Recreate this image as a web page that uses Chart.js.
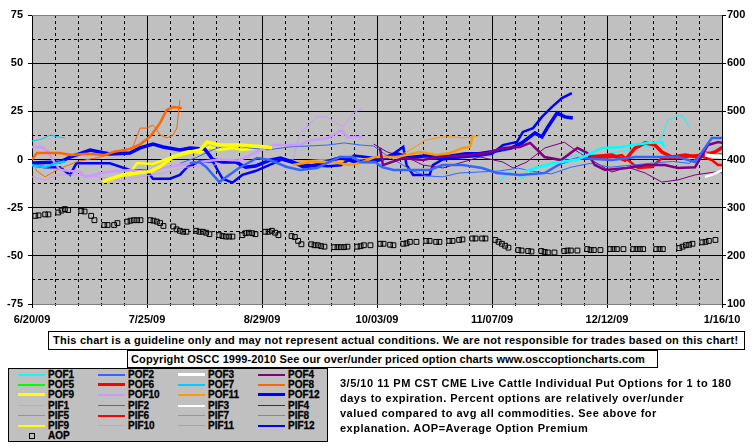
<!DOCTYPE html>
<html>
<head>
<meta charset="utf-8">
<script src="https://cdn.jsdelivr.net/npm/chart.js@4.4.0/dist/chart.umd.min.js"></script>
<style>
  html, body { margin: 0; padding: 0; background: #fff; }
  #wrap {
    position: relative; width: 755px; height: 446px; overflow: hidden;
    font-family: "Liberation Sans", Arial, sans-serif; font-weight: bold; color: #000;
  }
  #chart { position: absolute; left: 0; top: 0; }
  .box {
    position: absolute; border: 1px solid #000; background: #fff; box-sizing: border-box;
    font-size: 11px; line-height: 17px; white-space: nowrap; padding-left: 4px;
  }
  #disclaimer { left: 48px; top: 331px; width: 697px; height: 19px; letter-spacing: 0.25px; }
  #copyright { left: 127px; top: 350px; width: 531px; height: 18px; padding-left: 3px; letter-spacing: 0.12px; }
  #legend {
    position: absolute; left: 8px; top: 368px; width: 320px; height: 74px;
    background: #c0c0c0; border: 1px solid #000; box-sizing: border-box; z-index: 2;
  }
  .item { position: absolute; height: 10px; font-size: 10px; line-height: 10px; white-space: nowrap; color: #000; }
  .swatch { position: absolute; left: 0; width: 27px; }
  .marker { position: absolute; left: 11px; top: 2px; width: 4px; height: 4px; border: 1px solid #000; }
  .lbl { position: absolute; left: 30px; top: 0; color: #000; -webkit-text-stroke: 0.3px #000; }
  #note { position: absolute; left: 340px; top: 376px; font-size: 11px; line-height: 15px; white-space: nowrap; letter-spacing: 0.5px; }
</style>
</head>
<body>
<div id="wrap">
  <canvas id="chart" width="755" height="446"></canvas>
  <div class="box" id="disclaimer">This chart is a guideline only and may not represent actual conditions. We are not responsible for trades based on this chart!</div>
  <div class="box" id="copyright">Copyright OSCC 1999-2010 See our over/under priced option charts www.osccoptioncharts.com</div>
  <div id="legend"></div>
  <div id="note">3/5/10 11 PM CST CME Live Cattle Individual Put Options for 1 to 180<br>days to expiration. Percent options are relatively over/under<br>valued compared to avg all commodities. See above for<br>explanation. AOP=Average Option Premium</div>
</div>
<script>
/* ---- Data: x = days after 6/20/09, y = % over/under ---- */

const X_LABELS = ['6/20/09', '7/25/09', '8/29/09', '10/03/09', '11/07/09', '12/12/09', '1/16/10'];

const POF1 = [[150,-6],[154,-4],[158,-2],[162,-1],[166,0],[169,2.3],[173.5,6],[179.5,6.5],[182.6,7.5],[187.5,8.6],[191.7,9.1],[192.5,6.5]];
const POF2 = [[48,-2],[51,-1.3],[53,-3.9],[57,-11.7],[60,-8],[63,-4.4],[68.5,0.8],[72.4,-0.3],[77.6,-3.9],[81.6,-5.4],[86.7,-4.4],[93.7,1.3],[97.7,1.3],[99.8,-1.3],[104.4,-1.3],[106.5,-3.9],[110,-5.4],[116,-5.4],[121,-5.4],[125,-2.9],[131,-2.9],[137,-4.4],[141.5,-7],[148.5,-8],[156,-7],[161.3,-1.8],[166.2,0.8],[176.5,-0.3],[183.5,1.3],[191.7,1.3],[196.6,1.3],[201.8,-1.3],[206.9,11.2],[210.3,11.2]];
const POF3 = [[204.8,2.3],[210.3,1.3]];
const POF4 = [[105.9,6],[106.8,-2.9],[112.9,0.8],[119,-0.3],[123.3,1.3],[133.3,2.3],[138.5,3.4],[143.3,6],[148.5,6.5],[151.6,8.6],[156,1.3],[161,-0.3],[166,6],[169,3.4],[171.3,-2.9],[174.4,-5.4],[181,-4.4],[187,-2.9],[192.6,-2.9],[196.6,-4.4],[201.8,-4],[205.7,7.5],[208.8,9.1],[210.3,8.6]];
const POF5 = [];
const POF6 = [[169.2,1.3],[176.5,2.3],[180.5,-0.3],[183.5,5.9],[186.6,8.6],[189.6,7.5],[191.7,3.9],[194.8,1.3],[198.7,2.3],[202.7,1.3],[207.9,3.9],[210.3,6.5]];
const POF7 = [[0,-3],[4,-4],[7,-2],[10,-1]];
const POF8 = [[0,0],[1.5,3.4],[8.5,3.4],[12,2.3],[17,3],[22,2.3],[25,4],[30,5.5],[33,8],[36,12],[39,19],[41,25.7],[43,27.2],[45.6,26.7]];
const POF9 = [[21.6,-11.5],[24,-10],[27.7,-8],[30,-7.5],[32.9,-6.8],[36,-6.3],[39,-3.7],[43,1.5],[47,3.4],[51.1,4.9],[53.3,9.1],[57.2,7.5],[63.3,7.5],[71.5,6.5],[73,6]];
const POF10 = [[0,6.5],[3,6.5],[5,4],[6.8,-1.5],[8.5,-5.4],[14.6,-6.5],[16.1,-9],[22.8,-6.5],[29.8,-5.4],[35,-6.5],[39.9,-4.4],[45,-2.9],[50,-1.5],[57,0],[63,-0.5],[68.5,4],[73.3,7.5],[81.6,7.5],[84.6,10],[90,11],[94,15.3],[96,11.7],[100.7,11.7]];
const POF11 = [[79.4,-2.9],[84.6,-1.3],[91.6,-1.3],[96.8,-2.9],[99.8,-1.8],[104.4,1.3],[108,1.3],[111.1,1.3],[118.1,3.9],[123.3,2.3],[127.2,3.4],[131.2,6],[133.3,6.5],[134.2,12.7]];
const POF12 = [[0,-1.8],[8.5,-1.3],[11.6,1.3],[17.7,4.9],[23.7,2.9],[29.8,3.4],[32.9,6],[36.8,8],[39.9,6.5],[45,4.9],[48.1,6],[52.6,5.4],[55,0],[58,-1.3],[62,-1.3],[65,-4],[68,-3.4],[72.4,-0.3],[75.6,0.8],[79.5,-1.3],[82.6,-3.9],[86,-3],[90,-1],[94,1],[98,-1],[104,-1],[108,1],[111,3],[115,1],[120,2],[124,1],[128,2],[132,3],[136,3],[140,4],[143,5],[146,6],[149.1,8.6],[153.1,13.8],[155.2,11.7],[157,16.9],[159.8,24.1],[162.2,22.1],[164.6,21.5]];

const PIF1 = [[141.5,-12.2],[145.5,-6.5],[149.4,-9.6],[153.7,-4.4],[156,-3.9],[160,-1.5],[164,1.5],[168,4],[172,2],[177,3.5],[182,5],[186,7],[189,6],[191.7,11.7],[193.5,20.6],[197.8,23.1],[200.2,16.3]];
const PIF2 = [[45,-2],[50,1],[55,5],[60,8],[66,6],[72,5],[78,6.5],[84,7],[90,7.5],[95,8.6],[100,7.5],[104,7],[108,2],[112,-2],[116,-6],[120,-8.5],[125,-9],[130,-7],[136,-6.5],[142,-6],[148,-4.5],[152,-6],[158,-7.5],[164,-4],[170,-2],[176,-4],[182,-3],[188,-2],[195,-1],[200,-2],[205,4],[210,3]];
const PIF3 = [[204.8,-9],[206.9,-8],[210.3,-5.4]];
const PIF4 = [[104,8],[108,4],[115.9,-0.3],[119,-2.9],[125.1,-4.4],[131.2,-1.3],[136.3,1.3],[143.3,-1.3],[146.4,-4.4],[150.6,-1.3],[156.1,6],[162,9],[166.2,3.9],[171.3,-1.3],[176.5,-6.5],[181.4,-4],[186.6,-7],[191.7,-11.7],[196.6,-10.6],[201.8,-8],[207.9,-6.5],[210.3,-7]];
const PIF5 = [];
const PIF6 = [[169.2,0.8],[176.5,1.3],[179.5,2.3],[184.4,-4.4],[188.7,-3.9],[191.7,0.8],[196.6,0.8],[202.7,2.3],[206.9,-0.3],[208.8,-2.9],[210.3,-2.9]];
const PIF7 = [[0,9.6],[3,10.6],[5.5,12.7],[8,11.7],[10,11.2]];
const PIF8 = [[0,-1.3],[1.5,-6],[4,-9],[8,-5],[14,-1],[20,1],[27,4],[30.7,6.5],[32.9,16.3],[35,16.3],[36.8,17.9],[38,15.3],[39,12.7],[41.1,11.2],[42.9,12.7],[44.1,16.3],[45,30.9]];
const PIF9 = [[27.7,-8],[29.8,-7],[32,-1.8],[36.8,-2.3],[39.9,-0.3],[42,0.8],[45,2.3],[47.2,4.9],[51,3.4],[54,6.5],[57,4.9],[61,6],[64,4.9],[68.5,6]];
const PIF10 = [[0,-9],[4,-10.6],[8,-8],[14,-8],[20,-9],[27,-11],[33,-9],[40,-7],[47,-4],[55,-3],[62,-1],[70,-2],[75,0],[79.4,-0.3],[81.6,13.8],[86.7,22.1],[89.8,22.1],[94.6,16.9],[97.7,24.1],[100.7,26.7]];
const PIF11 = [[80,-1],[88,0],[95,-0.5],[100,0],[104.4,1.3],[110,2],[113.5,3.4],[116.6,6.5],[119.6,10],[124.8,11.7],[128.7,11.7],[131.2,11.2],[134.8,11.7],[136.3,12.7]];
const PIF12 = [[0,-3],[4,-4],[8.5,-4],[11.6,-8],[13.5,-2],[23.7,-2],[29.8,-5.4],[35,-6],[36.8,-10],[42,-10],[45,-8],[47.2,-4],[51,-1],[55,-1],[58,-10],[61,-12],[64,-8],[68,-6],[72,-3],[76,0],[80,-2],[85,-3],[90,-3.5],[94,-3],[98,2],[103,1],[106,0],[110,3],[113,6.5],[114,-2.9],[116,-8],[121,-8],[122,-2.9],[125,0],[130,1],[136,2],[140,3],[143.3,7.5],[147.6,9.1],[149.4,14.3],[152.5,16.3],[155.2,22.1],[158.2,27.2],[161.3,31.9],[164.3,34.5]];

// Average option premium (right axis)
const AOP_DAYS = [1,2,4,5,8,9,10,11,15,16,18,19,22,23,25,26,29,30,31,32,33,36,37,38,39,40,43,44,45,46,47,50,51,52,53,54,57,58,59,60,61,64,65,66,67,68,71,72,73,74,75,79,80,81,82,85,86,87,88,89,92,93,94,95,96,99,100,101,103,106,107,109,110,113,114,115,117,120,121,123,124,127,128,130,131,134,135,137,138,141,142,143,144,145,148,149,151,152,155,156,157,159,162,163,164,166,169,170,171,173,176,177,178,180,183,184,185,186,190,191,192,197,198,199,200,201,204,205,206,208];
const AOP_VALUES = [283,284,286,286,290,294,297,295,293,292,283,274,264,264,264,268,271,273,274,274,274,274,273,271,268,262,261,255,252,250,250,252,250,250,248,245,243,241,240,240,240,243,247,248,247,245,250,250,252,248,243,241,239,231,224,224,222,222,220,219,218,218,218,218,219,219,220,222,222,225,225,223,222,225,226,229,229,231,231,229,229,231,231,233,234,236,236,236,236,233,229,225,221,217,212,211,210,209,210,208,207,207,210,211,211,211,214,212,212,212,214,214,214,214,214,214,214,214,214,214,214,216,219,222,223,225,228,229,231,233];

const SERIES = {
  POF1, POF2, POF3, POF4, POF5, POF6, POF7, POF8, POF9, POF10, POF11, POF12,
  PIF1, PIF2, PIF3, PIF4, PIF5, PIF6, PIF7, PIF8, PIF9, PIF10, PIF11, PIF12,
};

/* ---- Styling ---- */

const COLORS = ['#00ffff', '#3366ff', '#ffffff', '#800080', '#00ff00', '#ff0000',
                '#00ccff', '#ff6600', '#ffff00', '#cc99ff', '#ff9900', '#0000ff'];
const FONT = '"Liberation Sans", Arial, sans-serif';

Chart.defaults.font = { family: FONT, size: 11, weight: 'bold' };
Chart.defaults.color = '#000';

// every third contract is drawn heavier
function _widths(name, n) {
  const heavy = n % 3 === 0;
  if (name.startsWith('POF')) return heavy ? { line: 3.5, legend: 3 } : { line: 2.5, legend: 2 };
  return heavy ? { line: 2.5, legend: 2 } : { line: 1, legend: 1 };
}

const datasets = Object.keys(SERIES).map((name, i) => {
  const n = (i % 12) + 1;
  const w = _widths(name, n);
  return {
    label: name,
    data: SERIES[name],
    borderColor: COLORS[n - 1],
    backgroundColor: COLORS[n - 1],
    borderWidth: w.line,
    legendWidth: w.legend,
    pointRadius: 0,
    tension: 0,
    fill: false,
    yAxisID: 'y',
  };
});

datasets.push({
  label: 'AOP',
  data: AOP_DAYS.map((d, i) => [d, AOP_VALUES[i]]),
  showLine: false,
  pointStyle: 'rect',
  pointRadius: 3.4,
  pointBorderWidth: 1,
  pointBorderColor: '#000',
  pointBackgroundColor: 'rgba(0,0,0,0)',
  borderColor: '#000',
  yAxisID: 'y2',
});

/* ---- Plot frame plugin ---- */

const plotFrame = {
  id: 'plotFrame',
  beforeDraw(chart) {
    const { ctx, chartArea: a } = chart;
    ctx.save();
    ctx.fillStyle = '#c0c0c0';
    ctx.fillRect(a.left, a.top, a.right - a.left, a.bottom - a.top);
    ctx.restore();
  },
  afterDraw(chart) {
    const { ctx, chartArea: a } = chart;
    ctx.save();
    ctx.strokeStyle = '#808080';
    ctx.lineWidth = 1;
    ctx.beginPath();
    ctx.moveTo(a.left, a.top + 0.5);
    ctx.lineTo(a.right, a.top + 0.5);
    ctx.stroke();
    ctx.restore();
  },
};

const minorGrid = { color: '#000', lineWidth: 1, drawTicks: false };
const minorBorder = { display: false, dash: [3, 3] };

const chart = new Chart(document.getElementById('chart').getContext('2d'), {
  type: 'line',
  data: { datasets },
  options: {
    responsive: false,
    animation: false,
    layout: { padding: { left: 0, right: 0, top: 15, bottom: 122 } },
    plugins: { legend: { display: false }, tooltip: { enabled: false } },
    scales: {
      xMinor: {
        type: 'linear', position: 'bottom', min: 0, max: 210,
        ticks: { display: false, stepSize: 7 },
        grid: { ...minorGrid, drawTicks: true, tickLength: 2 },
        border: minorBorder,
        afterFit: (s) => { s.height = 0; },
      },
      yMinor: {
        type: 'linear', position: 'left', min: -75, max: 75,
        ticks: { display: false, stepSize: 12.5 },
        grid: minorGrid,
        border: minorBorder,
        afterFit: (s) => { s.width = 0; },
      },
      x: {
        type: 'linear', position: 'bottom', min: 0, max: 210,
        ticks: {
          stepSize: 35, autoSkip: false, maxRotation: 0, padding: 5,
          callback: (v) => X_LABELS[v / 35] || '',
        },
        grid: { color: '#000', lineWidth: 1, tickLength: 4, tickColor: '#000' },
        border: { color: '#808080', width: 1 },
        afterFit: (s) => { s.height = 20; },
      },
      y: {
        type: 'linear', position: 'left', min: -75, max: 75,
        ticks: { stepSize: 25, padding: 5 },
        grid: { color: '#000', lineWidth: 1, tickLength: 4 },
        border: { color: '#000', width: 1 },
        afterFit: (s) => { s.width = 32; },
      },
      y2: {
        type: 'linear', position: 'right', min: 100, max: 700,
        ticks: { stepSize: 100, padding: 1 },
        grid: { drawOnChartArea: false, tickLength: 4, color: '#000' },
        border: { color: '#000', width: 1 },
        afterFit: (s) => { s.width = 33; },
      },
    },
  },
  plugins: [plotFrame],
});

/* ---- HTML legend built from the chart's datasets ---- */

const legendEl = document.getElementById('legend');
chart.data.datasets.forEach((ds, i) => {
  const row = Math.floor(i / 4);
  const col = i % 4;
  const item = document.createElement('div');
  item.className = 'item';
  item.style.left = (9 + col * 80) + 'px';
  item.style.top = Math.round(1 + row * 10.2) + 'px';
  if (ds.label === 'AOP') {
    const m = document.createElement('div');
    m.className = 'marker';
    item.appendChild(m);
  } else {
    const sw = document.createElement('div');
    sw.className = 'swatch';
    sw.style.height = ds.legendWidth + 'px';
    sw.style.top = (5 - Math.ceil(ds.legendWidth / 2)) + 'px';
    sw.style.background = ds.borderColor;
    item.appendChild(sw);
  }
  const lbl = document.createElement('span');
  lbl.className = 'lbl';
  lbl.textContent = ds.label;
  item.appendChild(lbl);
  legendEl.appendChild(item);
});
</script>
</body>
</html>
